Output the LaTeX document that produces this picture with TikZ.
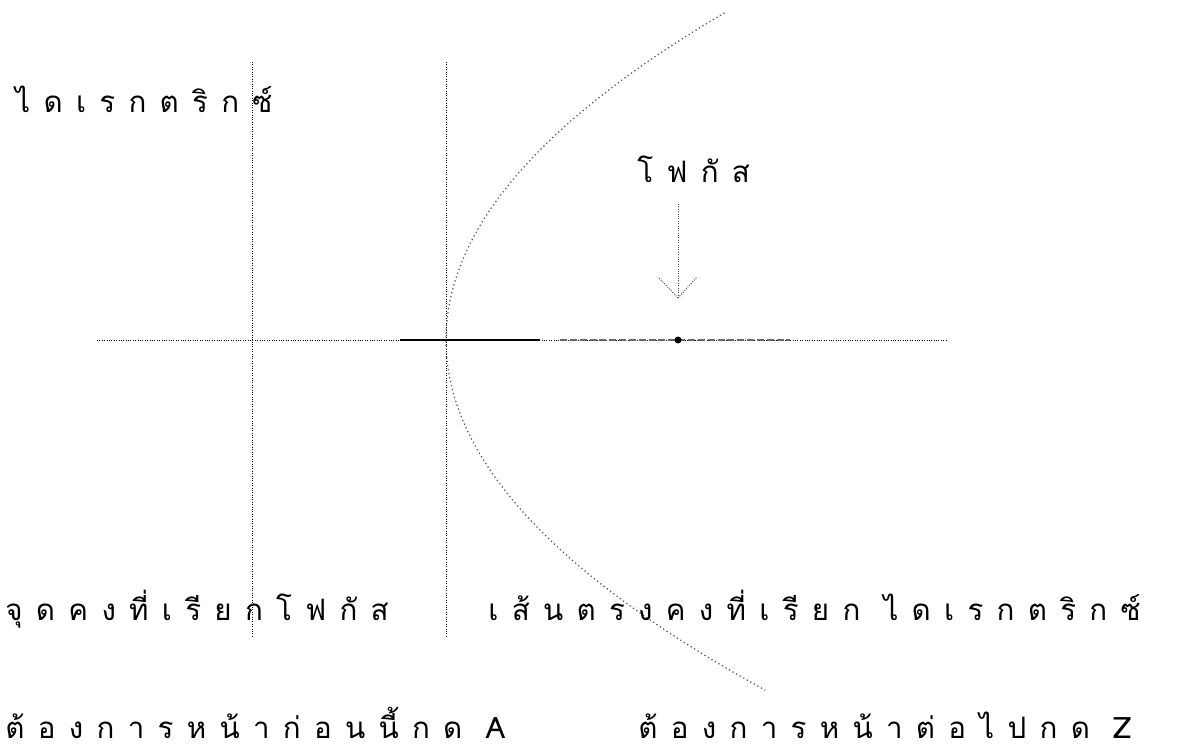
\documentclass[tikz,border=0pt]{standalone}
\usepackage{fontspec}
\newfontfamily\thaifont[Script=Thai,LetterSpace=45]{Loma}
\usetikzlibrary{positioning}

\begin{document}
\begin{tikzpicture}[x=0.025cm, y=-0.025cm, line width=0.6pt,
    screentext/.style={font=\thaifont\fontsize{21}{25}\selectfont, inner sep=0pt, anchor=base west},
    gridline/.style={densely dotted, line width=0.7pt},
    curveline/.style={dotted, line width=0.9pt, black!65}]

    \useasboundingbox (0,0) rectangle (1196,753);

    % directrix, line through the vertex, axis
    \coordinate (D1) at (252,62);
    \coordinate (D2) at (252,638);
    \coordinate (V1) at (446,62);
    \coordinate (V2) at (446,638);
    \coordinate (A1) at (97,340);
    \coordinate (A2) at (948,340);
    \coordinate (S1) at (400,340);
    \coordinate (S2) at (540,340);
    \coordinate (F) at (678,340);

    \draw[gridline] (D1) -- (D2);
    \draw[gridline] (V1) -- (V2);
    \draw[gridline] (A1) -- (A2);
    \draw[line width=0.9pt] (S1) -- (S2);
    \draw[line width=0.8pt, black!60, dash pattern=on 5pt off 2pt] (F) ++(-118,0) -- ++(230,0);
    \fill (F) circle[radius=3.5];

    % the parabola
    \draw[curveline] plot[domain=-1.035:1.108, samples=90, smooth]
        ({446+260*\x*\x}, {340+316*\x});

    % labels
    \node[screentext] (dirlbl) at (15,113) {ไดเรกตริกซ์};
    \node[screentext] (foclbl) at (637,183) {โฟกัส};
    \node[screentext] (pointtxt) at (5,620) {จุดคงที่เรียกโฟกัส};
    \node[screentext] (linetxt) at (488,620) {เส้นตรงคงที่เรียก ไดเรกตริกซ์};
    \node[screentext] (prevtxt) at (5,738) {ต้องการหน้าก่อนนี้กด A};
    \node[screentext] (nexttxt) at (638,738) {ต้องการหน้าต่อไปกด Z};

    % arrow to the focus
    \coordinate (shafttop) at (678,204);
    \coordinate (tip) at (678,298);
    \draw[gridline, black!70] (shafttop) -- (tip);
    \draw[gridline, black!70] (tip) -- ++(-20,-21);
    \draw[gridline, black!70] (tip) -- ++(19,-21);

\end{tikzpicture}
\end{document}
